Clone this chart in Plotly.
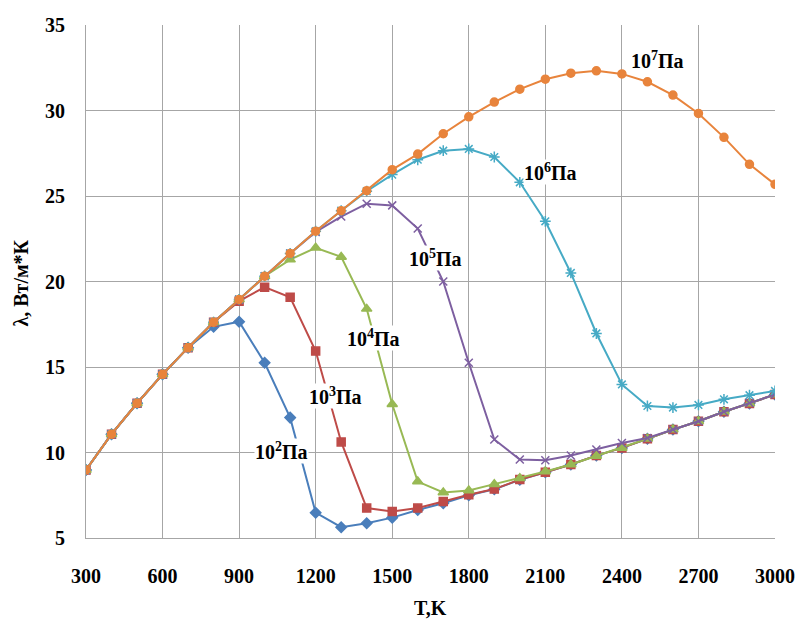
import plotly.graph_objects as go

T = [300, 400, 500, 600, 700, 800, 900, 1000, 1100, 1200, 1300, 1400, 1500, 1600,
     1700, 1800, 1900, 2000, 2100, 2200, 2300, 2400, 2500, 2600, 2700, 2800, 2900, 3000]

p1e2 = [8.98, 11.07, 12.88, 14.57, 16.13, 17.35, 17.65, 15.25, 12.04, 6.48, 5.63, 5.86, 6.19, 6.64,
        7.03, 7.5, 7.85, 8.4, 8.85, 9.3, 9.82, 10.27, 10.8, 11.34, 11.83, 12.38, 12.87, 13.39]
p1e3 = [8.98, 11.07, 12.88, 14.57, 16.13, 17.62, 18.85, 19.67, 19.08, 15.93, 10.62, 6.75, 6.55, 6.75,
        7.14, 7.53, 7.86, 8.42, 8.85, 9.3, 9.82, 10.27, 10.8, 11.34, 11.83, 12.38, 12.87, 13.39]
p1e4 = [8.98, 11.07, 12.88, 14.57, 16.13, 17.62, 18.95, 20.31, 21.28, 21.97, 21.44, 18.4, 12.82, 8.3,
        7.66, 7.78, 8.15, 8.5, 8.89, 9.3, 9.8, 10.27, 10.8, 11.34, 11.83, 12.38, 12.87, 13.39]
p1e5 = [8.98, 11.07, 12.88, 14.57, 16.13, 17.62, 18.95, 20.31, 21.64, 22.9, 23.8, 24.55, 24.45, 23.1,
        20.0, 15.25, 10.76, 9.59, 9.55, 9.82, 10.17, 10.56, 10.85, 11.34, 11.83, 12.38, 12.9, 13.39]
p1e6 = [8.98, 11.07, 12.88, 14.57, 16.13, 17.62, 18.95, 20.31, 21.64, 22.94, 24.14, 25.28, 26.25, 27.12,
        27.65, 27.75, 27.28, 25.8, 23.52, 20.5, 16.96, 13.98, 12.72, 12.63, 12.78, 13.11, 13.35, 13.6]
p1e7 = [8.98, 11.07, 12.88, 14.57, 16.13, 17.62, 18.95, 20.31, 21.64, 22.94, 24.14, 25.31, 26.54, 27.45,
        28.64, 29.63, 30.49, 31.25, 31.83, 32.18, 32.32, 32.14, 31.68, 30.9, 29.83, 28.43, 26.85, 25.68]

x_ticks = [300, 600, 900, 1200, 1500, 1800, 2100, 2400, 2700, 3000]
y_ticks = [5, 10, 15, 20, 25, 30, 35]

labels = ["10<sup>2</sup>Па", "10<sup>3</sup>Па", "10<sup>4</sup>Па",
          "10<sup>5</sup>Па", "10<sup>6</sup>Па", "10<sup>7</sup>Па"]
label_x = [1067, 1276, 1427, 1669, 2122, 2540]
label_y = [10.09, 13.3, 16.71, 21.38, 26.38, 32.93]

FONT = "Liberation Serif"
series = [
    (p1e2, "#4a7ebb", "diamond", 8),
    (p1e3, "#be4b48", "square", 8),
    (p1e4, "#98b954", "triangle-up", 9),
    (p1e5, "#7d5fa0", "x-thin", 8),
    (p1e6, "#46aac5", "asterisk", 9),
    (p1e7, "#e8843c", "circle", 8),
]

fig = go.Figure()
for vals, col, sym, sz in series:
    fig.add_trace(go.Scatter(
        x=T, y=vals, mode="lines+markers",
        line=dict(color=col, width=2),
        marker=dict(symbol=sym, size=sz, color=col, line=dict(color=col, width=1.5)),
        showlegend=False,
    ))

for txt, lx, ly in zip(labels, label_x, label_y):
    fig.add_annotation(x=lx, y=ly, text="<b>" + txt + "</b>", showarrow=False,
                       font=dict(family=FONT, size=20, color="black"),
                       bgcolor="white", borderpad=0, xanchor="center", yanchor="middle")

fig.add_annotation(xref="paper", yref="paper", x=(20 - 86) / 695, y=(538 - 283) / 513,
                   text="<b>λ, Вт/м*К</b>", textangle=-90, showarrow=False,
                   font=dict(family=FONT, size=20, color="black"), xanchor="center", yanchor="middle")
fig.add_annotation(xref="paper", yref="paper", x=0.5, y=(538 - 608) / 513,
                   text="<b>T,K</b>", showarrow=False,
                   font=dict(family=FONT, size=20, color="black"), xanchor="center", yanchor="middle")

fig.update_layout(
    width=807, height=622,
    margin=dict(l=86, r=26, t=25, b=84),
    paper_bgcolor="white", plot_bgcolor="white",
    xaxis=dict(range=[300, 3000], tickvals=x_ticks, ticktext=[str(v) for v in x_ticks],
               showgrid=True, gridcolor="#a6a6a6", gridwidth=1, zeroline=False,
               showline=True, linecolor="#a6a6a6", linewidth=1,
               ticks="outside", ticklen=20, tickcolor="rgba(0,0,0,0)",
               tickfont=dict(family=FONT, size=20, color="black", weight="bold")),
    yaxis=dict(range=[5, 35], tickvals=y_ticks, ticktext=[str(v) for v in y_ticks],
               showgrid=True, gridcolor="#a6a6a6", gridwidth=1, zeroline=False,
               showline=True, linecolor="#a6a6a6", linewidth=1,
               ticks="outside", ticklen=16, tickcolor="rgba(0,0,0,0)",
               tickfont=dict(family=FONT, size=20, color="black", weight="bold")),
)

fig.write_html("out.html", config={"displayModeBar": False},
               post_script="document.body.style.margin='0';document.body.style.overflow='hidden';")
